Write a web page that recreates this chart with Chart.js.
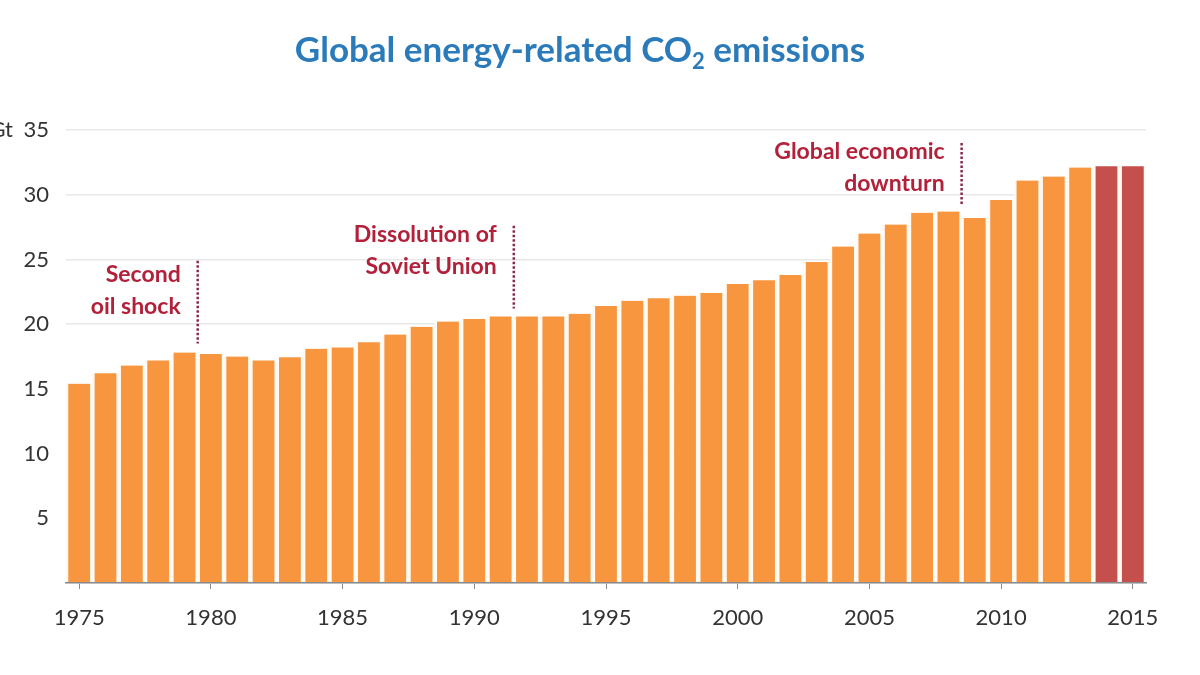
<!DOCTYPE html>
<html>
<head>
<meta charset="utf-8">
<script src="https://cdn.jsdelivr.net/npm/chart.js@4"></script>
<style>
  body { margin: 0; background: #ffffff; }
  #wrap { position: relative; width: 1200px; height: 675px; }
  #title {
    position: absolute; left: 0; width: 1160px; top: 27px;
    text-align: center; font-family: Lato, sans-serif; font-weight: bold;
    font-size: 35px; color: #2b7bba; margin: 0;
  }
  #title sub { font-size: 22px; vertical-align: -7px; line-height: 0; }
</style>
</head>
<body>
<div id="wrap">
  <h1 id="title">Global energy-related CO<sub>2</sub> emissions</h1>
  <canvas id="chart" width="1200" height="675"></canvas>
</div>
<script>
//years on the x axis
const years = ["1975","1976","1977","1978","1979","1980","1981","1982","1983","1984",
  "1985","1986","1987","1988","1989","1990","1991","1992","1993","1994",
  "1995","1996","1997","1998","1999","2000","2001","2002","2003","2004",
  "2005","2006","2007","2008","2009","2010","2011","2012","2013","2014","2015"];
//emissions in Gt
const emissions = [15.4, 16.2, 16.8, 17.2, 17.8, 17.7, 17.5, 17.2, 17.45, 18.1,
  18.2, 18.6, 19.2, 19.8, 20.2, 20.4, 20.6, 20.6, 20.6, 20.8,
  21.4, 21.8, 22.0, 22.2, 22.4, 23.1, 23.4, 23.8, 24.8, 26.0,
  27.0, 27.7, 28.6, 28.7, 28.2, 29.6, 31.1, 31.4, 32.1, 32.2, 32.2];
//last two years shown in red
const highlightYears = ["2014", "2015"];
//y axis ticks
const yTicks = [5, 10, 15, 20, 25, 30, 35];
//annotations: text, year where the dotted line sits, line top / bottom and text value
const noteLabels = [["Second", "oil shock"], ["Dissolution of", "Soviet Union"], ["Global economic", "downturn"]];
const noteYears = [1979.5, 1991.5, 2008.5];
const noteTop = [24.9, 27.6, 34.0];
const noteBottom = [18.5, 21.2, 29.2];
const noteTextAt = [23.8, 26.9, 33.3];

const barColors = years.map(y => highlightYears.includes(y) ? "#c44f4c" : "#f7963f");

//draws the notes and the "Gt" unit label
const notesPlugin = {
  id: "notes",
  afterDatasetsDraw(chart) {
    const { ctx, scales } = chart;
    ctx.save();
    for (let i = 0; i < noteLabels.length; i++) {
      const x = scales.x.getPixelForValue(noteYears[i] - 1975);
      ctx.strokeStyle = "#862a50";
      ctx.lineWidth = 2.5;
      ctx.setLineDash([2.5, 2]);
      ctx.beginPath();
      ctx.moveTo(x, scales.y.getPixelForValue(noteTop[i]));
      ctx.lineTo(x, scales.y.getPixelForValue(noteBottom[i]));
      ctx.stroke();
      ctx.setLineDash([]);
      ctx.fillStyle = "#b3203a";
      ctx.font = "bold 23px Lato";
      ctx.textAlign = "right";
      ctx.textBaseline = "middle";
      const ty = scales.y.getPixelForValue(noteTextAt[i]);
      noteLabels[i].forEach((line, j) => ctx.fillText(line, x - 17, ty + j * 32));
    }
    //unit label, cut off at the left edge
    ctx.fillStyle = "#333333";
    ctx.font = "22px Lato";
    ctx.textAlign = "right";
    ctx.textBaseline = "middle";
    ctx.fillText("Gt", 13, scales.y.getPixelForValue(35));
    ctx.restore();
  }
};

new Chart(document.getElementById("chart"), {
  type: "bar",
  plugins: [notesPlugin],
  data: {
    labels: years,
    datasets: [{
      data: emissions,
      backgroundColor: barColors,
      //light sides make the white gaps between bars
      borderColor: "#fffaf3",
      borderWidth: { left: 2.6, right: 2.6, top: 0, bottom: 0 },
      borderSkipped: false,
      barPercentage: 1.0,
      categoryPercentage: 1.0,
    }],
  },
  options: {
    responsive: false,
    animation: false,
    layout: { padding: { top: 130, right: 54, left: 0, bottom: 0 } },
    plugins: {
      legend: { display: false },
      tooltip: { enabled: false },
    },
    scales: {
      x: {
        afterFit: (scale) => { scale.height = 92; },
        border: { color: "#8a8a8a", width: 1.5, z: 1 },
        grid: {
          offset: false,
          drawOnChartArea: false,
          tickLength: 6,
          tickColor: (c) => (c.index % 5 === 0 ? "#8a8a8a" : "rgba(0,0,0,0)"),
        },
        ticks: {
          autoSkip: false,
          maxRotation: 0,
          padding: 16,
          color: "#333333",
          font: { family: "Lato", size: 22 },
          callback: (v, i) => (Number(years[i]) % 5 === 0 ? years[i] : ""),
        },
      },
      y: {
        min: 0,
        max: 35,
        afterFit: (scale) => { scale.width = 66; },
        afterBuildTicks: (scale) => { scale.ticks = [0].concat(yTicks).map(v => ({ value: v })); },
        border: { display: false },
        grid: { color: "#e8e8e8", lineWidth: 1.5, drawTicks: false },
        ticks: {
          padding: 17,
          color: "#333333",
          font: { family: "Lato", size: 22 },
          callback: (v) => (v === 0 ? "" : v),
        },
      },
    },
  },
});
</script>
</body>
</html>
